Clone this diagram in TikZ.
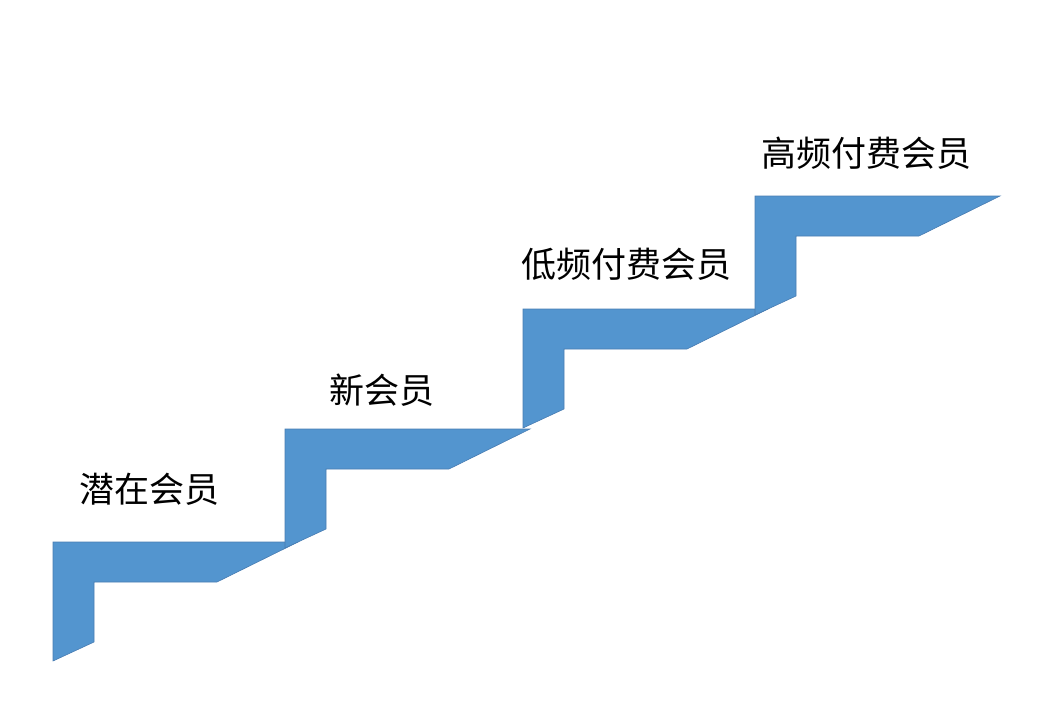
\documentclass[tikz,border=0pt]{standalone}
\usepackage{fontspec}
\newfontfamily\cjk{Noto Sans CJK SC}
\definecolor{stepfill}{RGB}{83,149,207}
\definecolor{stepline}{RGB}{72,124,178}
\begin{document}
\begin{tikzpicture}[x=1pt,y=-1pt,
  stair/.style={fill=stepfill,draw=stepline,line width=0.6pt,line join=miter},
  lbl/.style={anchor=west,inner sep=0pt,font=\cjk\fontsize{35}{35}\selectfont}]
\useasboundingbox (0,0) rectangle (1062,716);
\newcommand\stairstep[2]{%
  \draw[stair] (#1,#2) -- ++(245,0) -- ++(-81,40) -- ++(-123,0) -- ++(0,60) -- ++(-41,19) -- cycle;}
\stairstep{53}{542}
\stairstep{285}{429}
\stairstep{523}{309}
\stairstep{755}{196}
\node[lbl] (l1) at (79,489) {潜在会员};
\node[lbl] (l2) at (329,390) {新会员};
\node[lbl] (l3) at (521,264) {低频付费会员};
\node[lbl] (l4) at (761,153) {高频付费会员};
\end{tikzpicture}
\end{document}
